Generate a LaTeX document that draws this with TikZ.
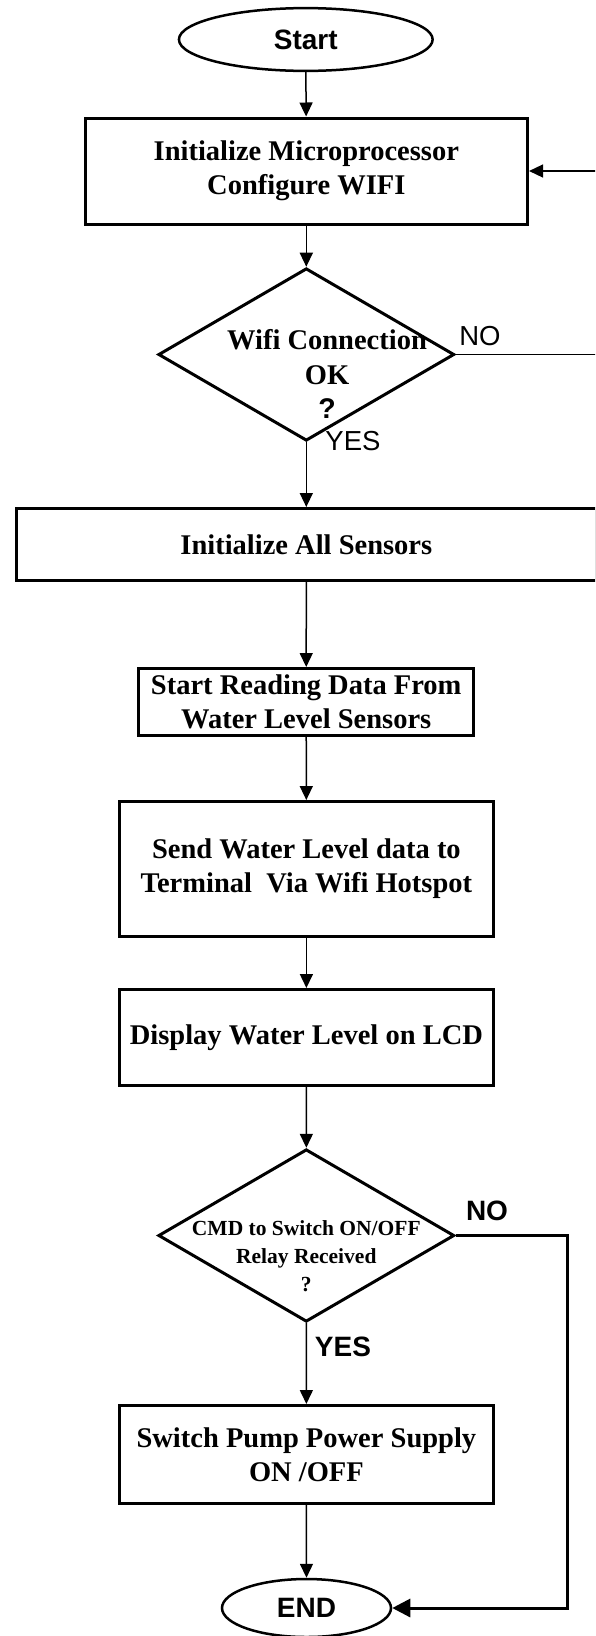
\documentclass[tikz,border=0pt]{standalone}
\usepackage{fontspec}
\setmainfont{Liberation Serif}
\newfontfamily\arialf{Liberation Sans}
\usetikzlibrary{shapes.geometric,arrows.meta}
\begin{document}
\begin{tikzpicture}[x=1pt,y=-1pt,
  boxst/.style={draw,line width=3pt,rectangle,inner sep=0pt,align=center,font=\bfseries\fontsize{28.5}{34}\selectfont},
  termst/.style={draw,line width=2.5pt,ellipse,inner sep=0pt,font=\arialf\bfseries\fontsize{28}{33}\selectfont},
  decst/.style={draw,line width=3pt,diamond,inner sep=0pt},
  dtext/.style={inner sep=0pt,align=center},
  conn/.style={line width=1.5pt,-{Triangle[length=14pt,width=13pt]}},
  thickconn/.style={line width=3pt,-{Triangle[length=18pt,width=18pt]}},
  lbl/.style={inner sep=0pt,font=\arialf\fontsize{27.5}{33}\selectfont},
  lblb/.style={inner sep=0pt,font=\arialf\bfseries\fontsize{28}{33}\selectfont}]
\clip (0,0) rectangle (595,1636);
\fill[white] (0,0) rectangle (595,1636);
% nodes
\node[termst,minimum width=253.7pt,minimum height=62.8pt] (start) at (305.8,39.5) {Start};
\node[boxst,minimum width=442.5pt,minimum height=106pt] (b1) at (306.3,171) {Initialize Microprocessor\\Configure WIFI};
\node[decst,minimum width=296pt,minimum height=172.5pt] (d1) at (306.3,354.5) {};
\node[dtext,font=\bfseries\fontsize{28.5}{34.5}\selectfont] (d1t) at (327,374) {Wifi Connection\\OK\\{\arialf ?}};
\node[boxst,minimum width=580.5pt,minimum height=72pt] (b2) at (306.3,544.5) {Initialize All Sensors};
\node[boxst,minimum width=334.7pt,minimum height=67pt] (b3) at (306.2,702) {Start Reading Data From\\Water Level Sensors};
\node[boxst,minimum width=374.8pt,minimum height=135pt] (b4) at (306.4,869) {Send Water Level data to\\Terminal\ \ Via Wifi Hotspot};
\node[boxst,minimum width=374.8pt,minimum height=96pt] (b5) at (306.4,1037.5) {Display Water Level on LCD};
\node[decst,minimum width=296pt,minimum height=172.5pt] (d2) at (306.3,1235.5) {};
\node[dtext,font=\bfseries\fontsize{21.5}{28}\selectfont] (d2t) at (306.3,1255.7) {CMD to Switch ON/OFF\\Relay Received\\?};
\node[boxst,minimum width=374.8pt,minimum height=98pt] (b6) at (306.4,1454.5) {Switch Pump Power Supply\\ON /OFF};
\node[termst,minimum width=169pt,minimum height=58pt] (endn) at (306.5,1608) {END};
% labels
\node[lbl] (no1) at (480,336) {NO};
\node[lbl] (yes1) at (353,441.5) {YES};
\node[lblb] (no2) at (487,1211) {NO};
\node[lblb] (yes2) at (343,1347) {YES};
% helper coordinates
\coordinate (tr) at (605,354.5);
\coordinate (br) at (567.5,1235.5);
% connectors
\draw[conn] (start) -- (b1);
\draw[conn] (b1) -- (d1);
\draw[conn] (d1) -- (b2);
\draw[conn] (b2) -- (b3);
\draw[conn] (b3) -- (b4);
\draw[conn] (b4) -- (b5);
\draw[conn] (b5) -- (d2);
\draw[conn] (d2) -- (b6);
\draw[conn] (b6) -- (endn);
\draw[conn] (d1.east) -- (tr) |- (b1.east);
\draw[thickconn,line join=miter] (d2.east) -- (br) |- (endn.east);
\end{tikzpicture}
\end{document}
